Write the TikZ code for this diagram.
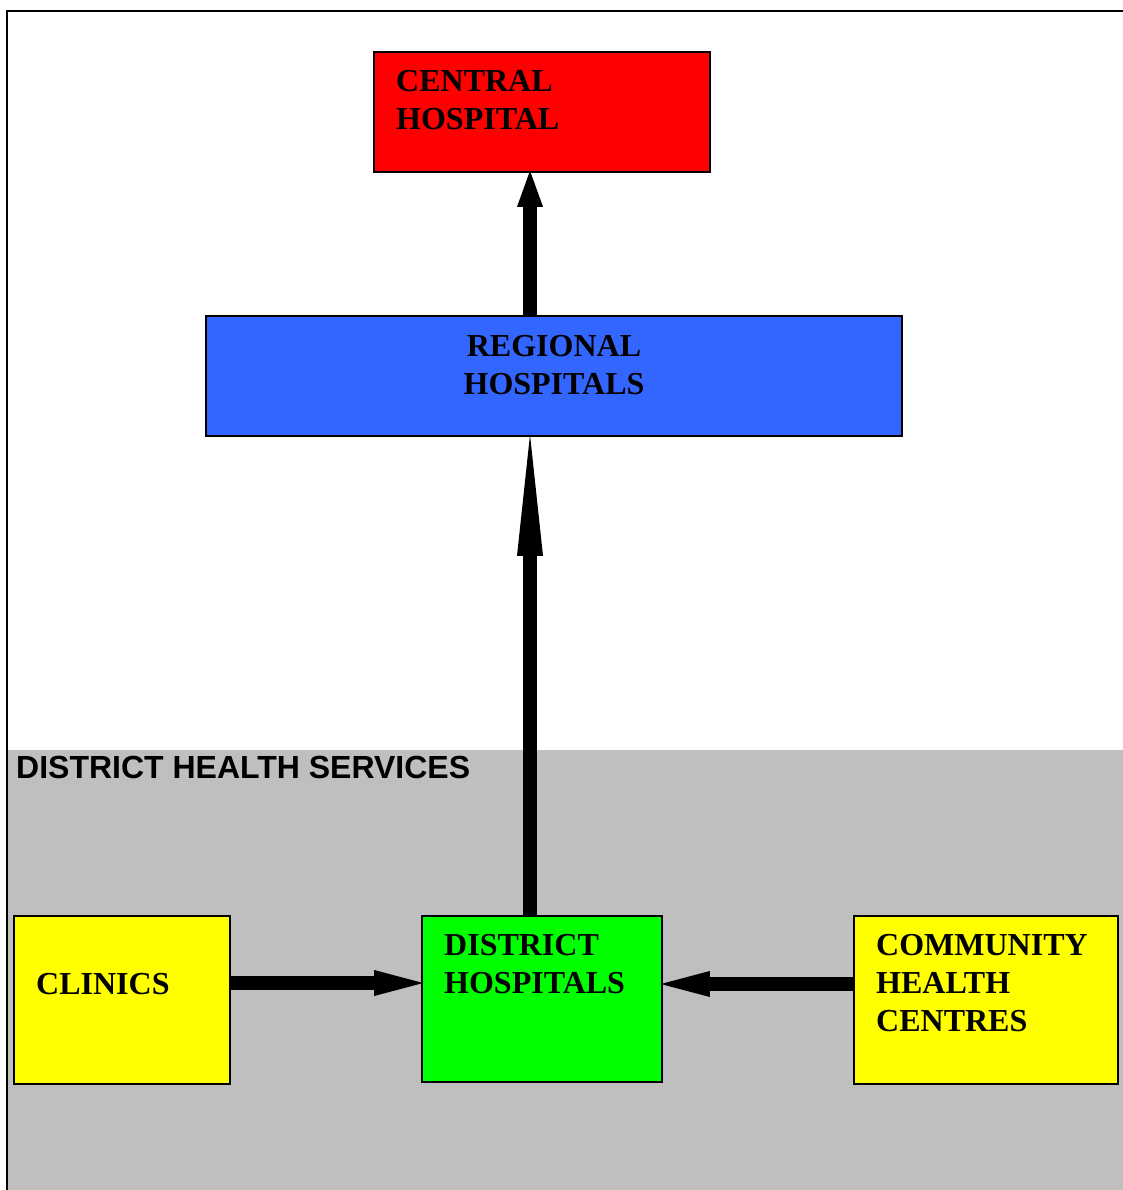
\documentclass[tikz,border=0pt]{standalone}
\usepackage{fontspec}
\setmainfont{Liberation Serif}
\setsansfont{Liberation Sans}
\usetikzlibrary{arrows.meta}
\definecolor{centralred}{RGB}{255,0,0}
\definecolor{regionblue}{RGB}{51,102,255}
\definecolor{districtgreen}{RGB}{0,255,0}
\definecolor{primaryyellow}{RGB}{255,255,0}
\definecolor{dhsgray}{RGB}{191,191,191}
\tikzset{
  unit/.style={draw=black, line width=1.6pt, inner sep=0pt},
  unittext/.style={inner sep=0pt, anchor=north west, align=left,
    font=\fontsize{32}{38}\selectfont\bfseries},
  flow/.style={line width=14pt, shorten >=-2pt}
}

\begin{document}
\begin{tikzpicture}[x=1pt, y=-1pt]
      \useasboundingbox (0,0) rectangle (1123,1190);

      \fill[dhsgray] (7,750) rectangle (1123,1190);
      \draw[line width=2.4pt] (7,1190) -- (7,11) -- (1123,11);
      \node[inner sep=0pt, anchor=north west, font=\sffamily\bfseries\fontsize{32}{38}\selectfont] (dhs) at (16,756) {DISTRICT HEALTH SERVICES};

      \node[unit, fill=centralred, minimum width=336pt, minimum height=120pt] (central) at (542,112) {};
      \node[unittext] (centraltxt) at (396,70) {CENTRAL\\HOSPITAL};

      \node[unit, fill=regionblue, minimum width=696pt, minimum height=120pt] (regional) at (554,376) {};
      \node[unittext, anchor=north, align=center] (regionaltxt) at (554,335) {REGIONAL\\HOSPITALS};

      \node[unit, fill=primaryyellow, minimum width=216pt, minimum height=168pt] (clinics) at (122,1000) {};
      \node[unittext] (clinicstxt) at (36,973) {CLINICS};

      \node[unit, fill=districtgreen, minimum width=240pt, minimum height=166pt] (district) at (542,999) {};
      \node[unittext] (districttxt) at (444,934) {DISTRICT\\HOSPITALS};

      \node[unit, fill=primaryyellow, minimum width=264pt, minimum height=168pt] (community) at (986,1000) {};
      \node[unittext] (communitytxt) at (876,934) {COMMUNITY\\HEALTH\\CENTRES};

      \draw[flow, -{Triangle[length=121pt, width=26pt, line width=0pt]}] ([xshift=-12pt]district.north) -- ([xshift=-12pt]district.north |- regional.south);
      \draw[flow, -{Triangle[length=36pt, width=26pt, line width=0pt]}] ([xshift=-24pt]regional.north) -- ([xshift=-24pt]regional.north |- central.south);
      \draw[flow, -{Triangle[length=49pt, width=26pt, line width=0pt]}] ([yshift=17pt]clinics.east) -- ([yshift=17pt]clinics.east -| district.west);
      \draw[flow, -{Triangle[length=49pt, width=26pt, line width=0pt]}] ([yshift=16pt]community.west) -- ([yshift=16pt]community.west -| district.east);
    \end{tikzpicture}
\end{document}
